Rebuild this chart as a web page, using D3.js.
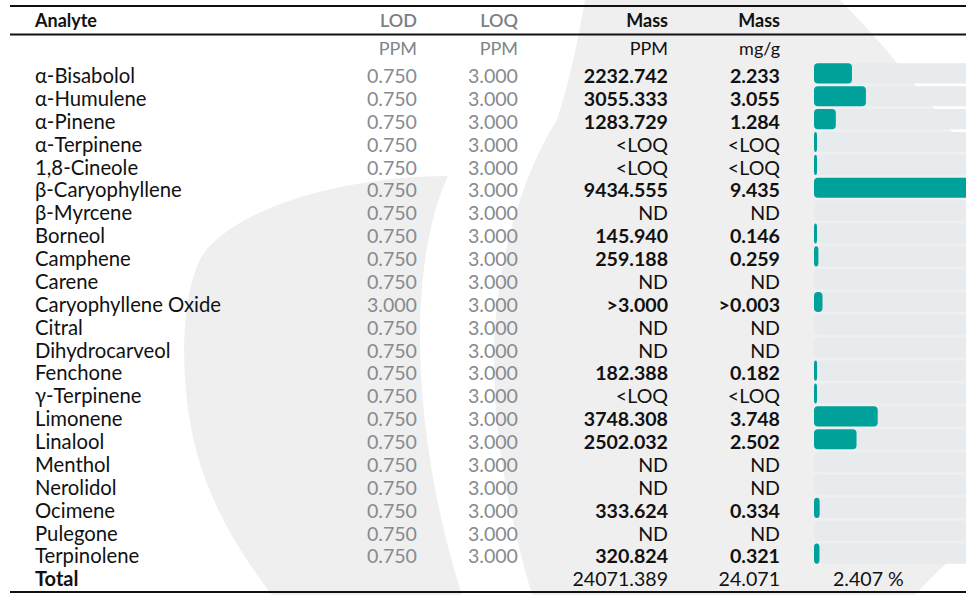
<!DOCTYPE html>
<html>
<head>
<meta charset="utf-8">
<script src="https://cdn.jsdelivr.net/npm/d3@7"></script>
<style>
  html, body { margin: 0; padding: 0; background: #ffffff; }
  svg { display: block; font-family: Lato, "Open Sans", sans-serif; }
</style>
</head>
<body>
<svg id="chart" width="966" height="595"></svg>
<script>
// ---- data ----
const analytes = ["α-Bisabolol","α-Humulene","α-Pinene","α-Terpinene","1,8-Cineole","β-Caryophyllene","β-Myrcene","Borneol","Camphene","Carene","Caryophyllene Oxide","Citral","Dihydrocarveol","Fenchone","γ-Terpinene","Limonene","Linalool","Menthol","Nerolidol","Ocimene","Pulegone","Terpinolene"];
const lod = ["0.750","0.750","0.750","0.750","0.750","0.750","0.750","0.750","0.750","0.750","3.000","0.750","0.750","0.750","0.750","0.750","0.750","0.750","0.750","0.750","0.750","0.750"];
const loq = ["3.000","3.000","3.000","3.000","3.000","3.000","3.000","3.000","3.000","3.000","3.000","3.000","3.000","3.000","3.000","3.000","3.000","3.000","3.000","3.000","3.000","3.000"];
const massPPM = ["2232.742","3055.333","1283.729","<LOQ","<LOQ","9434.555","ND","145.940","259.188","ND",">3.000","ND","ND","182.388","<LOQ","3748.308","2502.032","ND","ND","333.624","ND","320.824"];
const massMG = ["2.233","3.055","1.284","<LOQ","<LOQ","9.435","ND","0.146","0.259","ND",">0.003","ND","ND","0.182","<LOQ","3.748","2.502","ND","ND","0.334","ND","0.321"];
// bar lengths (mg/g) as drawn in the picture; ND rows have no bar
const barValues = [2.233,3.055,1.284,0.12,0.12,9.435,0,0.146,0.259,0,0.5,0,0,0.182,0.12,3.748,2.502,0,0,0.334,0,0.321];
const columns = ["Analyte","LOD","LOQ","Mass","Mass"];
const units = ["","PPM","PPM","PPM","mg/g"];
const totalRow = {label:"Total", ppm:"24071.389", mg:"24.071", pct:"2.407 %"};
const barMax = 10;

// ---- drawing ----
const svg = d3.select("#chart");
const W = 966, H = 595;

// watermark
const wm = svg.append("g");
wm.append("path")
  .attr("d","M448,176 C360,176 250,200 206,250 C180,285 178,380 196,450 C212,510 245,560 272,595 L462,595 C438,520 418,420 420,320 C422,260 432,210 448,176 Z")
  .attr("fill","#efefef");
wm.append("path")
  .attr("d","M585,0 L840,0 C880,40 925,95 966,150 L966,545 C950,560 930,578 915,595 L532,595 C510,520 494,440 494,360 C494,260 525,170 557,120 C570,80 578,40 585,0 Z")
  .attr("fill","#efefef");

const xCol = {analyte:35, lod:417, loq:518, ppm:668, mg:780, bar:814};
const rowNames = analytes.concat([totalRow.label]);
const y = d3.scaleBand().domain(rowNames).range([63.3, 63.3 + rowNames.length*22.75]).paddingInner(0.12).paddingOuter(0);
const bw = y.bandwidth();
const base = d => y(d) + bw - 0.3;

const x = d3.scaleLinear().domain([0, barMax]).range([0, 170]);

// lines
svg.append("line").attr("x1",10).attr("x2",W).attr("y1",6).attr("y2",6).attr("stroke","#111").attr("stroke-width",2);
svg.append("line").attr("x1",10).attr("x2",W).attr("y1",34.5).attr("y2",34.5).attr("stroke","#111").attr("stroke-width",2);
svg.append("line").attr("x1",10).attr("x2",W).attr("y1",592).attr("y2",592).attr("stroke","#111").attr("stroke-width",2);

// header
const hx = [xCol.analyte, xCol.lod, xCol.loq, xCol.ppm, xCol.mg];
const hAnchor = ["start","end","end","end","end"];
const hColor = ["#111","#7b8085","#7b8085","#111","#111"];
const hWeight = ["bold","600","600","bold","bold"];
svg.append("g").selectAll("text").data(columns).join("text")
  .attr("x",(d,i)=>hx[i]).attr("y",26.5)
  .attr("text-anchor",(d,i)=>hAnchor[i])
  .attr("fill",(d,i)=>hColor[i]).attr("font-weight",(d,i)=>hWeight[i])
  .attr("font-size",18).text(d=>d);
const uColor = ["#111","#80858a","#80858a","#111","#111"];
svg.append("g").selectAll("text").data(units).join("text")
  .attr("x",(d,i)=>hx[i]).attr("y",55)
  .attr("text-anchor",(d,i)=>hAnchor[i])
  .attr("fill",(d,i)=>uColor[i])
  .attr("font-size",18).text(d=>d);

const fs = 19.6;
const rows = svg.append("g").selectAll("g").data(analytes).join("g");
rows.append("text").attr("x",xCol.analyte).attr("y",d=>base(d)).attr("font-size",20.3).attr("fill","#111").text(d=>d);
rows.append("text").attr("x",xCol.lod).attr("y",d=>base(d)).attr("text-anchor","end").attr("font-size",fs).attr("fill","#868b90").text((d,i)=>lod[i]);
rows.append("text").attr("x",xCol.loq).attr("y",d=>base(d)).attr("text-anchor","end").attr("font-size",fs).attr("fill","#868b90").text((d,i)=>loq[i]);
const isNum = v => /^[0-9]/.test(v) || v.startsWith(">");
rows.append("text").attr("x",xCol.ppm).attr("y",d=>base(d)).attr("text-anchor","end").attr("font-size",fs).attr("fill","#111")
  .attr("font-weight",(d,i)=>isNum(massPPM[i])?"bold":"normal").text((d,i)=>massPPM[i]);
rows.append("text").attr("x",xCol.mg).attr("y",d=>base(d)).attr("text-anchor","end").attr("font-size",fs).attr("fill","#111")
  .attr("font-weight",(d,i)=>isNum(massMG[i])?"bold":"normal").text((d,i)=>massMG[i]);

// bars
rows.append("rect").attr("x",xCol.bar).attr("y",d=>y(d)).attr("width",x(barMax)).attr("height",bw).attr("rx",4).attr("fill","#e8ebed");
rows.filter((d,i)=>barValues[i]>0).append("rect")
  .attr("x",xCol.bar).attr("y",d=>y(d))
  .attr("width",(d,i)=>Math.max(3, x(barValues[analytes.indexOf(d)])))
  .attr("height",bw).attr("rx",4).attr("fill","#00a19a");

// total
const tb = base(totalRow.label);
svg.append("text").attr("x",xCol.analyte).attr("y",tb).attr("font-size",20).attr("font-weight","bold").attr("fill","#111").text(totalRow.label);
svg.append("text").attr("x",xCol.ppm).attr("y",tb).attr("text-anchor","end").attr("font-size",fs).attr("fill","#111").text(totalRow.ppm);
svg.append("text").attr("x",xCol.mg).attr("y",tb).attr("text-anchor","end").attr("font-size",fs).attr("fill","#111").text(totalRow.mg);
svg.append("text").attr("x",833).attr("y",tb).attr("font-size",fs).attr("fill","#111").text(totalRow.pct);
</script>
</body>
</html>
